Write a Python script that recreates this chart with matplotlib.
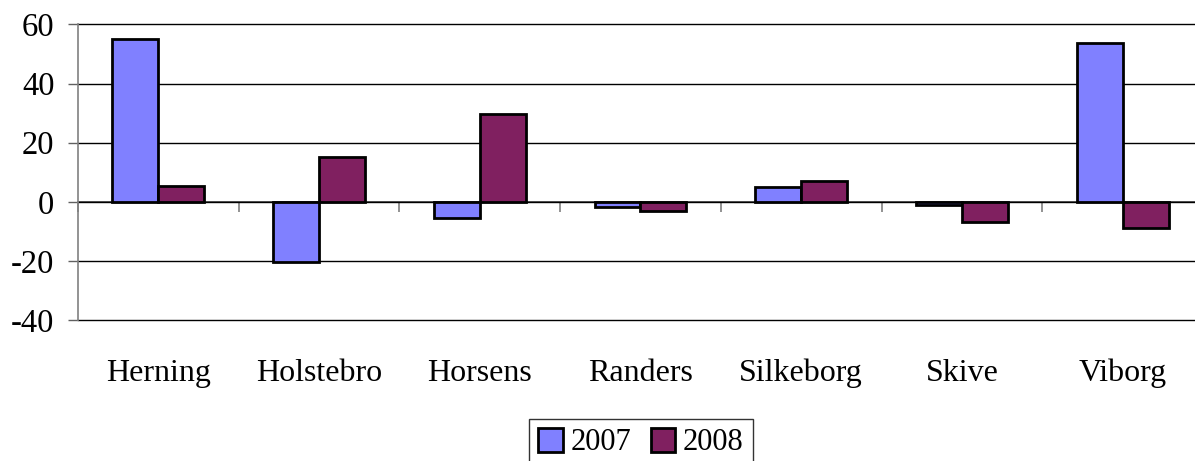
import numpy as np
import matplotlib
matplotlib.use("Agg")
import matplotlib.pyplot as plt

# data
cities = ["Herning", "Holstebro", "Horsens", "Randers", "Silkeborg", "Skive", "Viborg"]
v2007 = [55, -20.3, -5.4, -1.7, 5, -1, 53.7]
v2008 = [5.4, 15, 29.7, -3, 7, -6.8, -8.8]
yticks = [-40, -20, 0, 20, 40, 60]

plt.rcParams['font.family'] = ['Liberation Serif', 'DejaVu Serif']

W, H = 1195, 461
fig = plt.figure(figsize=(W / 100, H / 100), dpi=100)
ax = fig.add_axes([78 / W, (H - 320) / H, (1203 - 78) / W, (320 - 24.5) / H])

x = np.arange(len(cities))
bw = 0.2857
ax.bar(x - bw / 2, v2007, bw, color="#8080FF", edgecolor="black", linewidth=2.0, label="2007", zorder=3)
ax.bar(x + bw / 2, v2008, bw, color="#802060", edgecolor="black", linewidth=2.0, label="2008", zorder=3)

ax.set_xlim(-0.5, len(cities) - 0.5)
ax.set_ylim(-40, 60)
ax.set_yticks(yticks)
ax.set_yticklabels([str(t) for t in yticks], fontsize=23.5)
ax.yaxis.grid(True, color="black", linewidth=1.0, zorder=1)
for gl in ax.get_ygridlines():
    gl.set_clip_on(False)
ax.set_axisbelow(True)

ax.set_xticks(x)
ax.set_xticklabels(cities, fontsize=23)
ax.tick_params(axis="x", length=0, pad=28)
ax.tick_params(axis="y", length=7, width=1, color="#606060", pad=10, direction="out")

for s in ["top", "right", "bottom"]:
    ax.spines[s].set_visible(False)
ax.spines["left"].set_color("#808080")
ax.spines["left"].set_linewidth(1.2)

# category axis at zero with tick marks between groups
sec = ax.secondary_xaxis(0.4)
sec.set_xticks(np.arange(len(cities) + 1) - 0.5)
sec.set_xticklabels([])
sec.tick_params(length=7, width=1.2, color="#808080", direction="out")
sec.spines["bottom"].set_color("#404040")
sec.spines["bottom"].set_linewidth(1.2)

leg = fig.legend(loc="upper center", bbox_to_anchor=(641 / W, 1 - 419 / H), ncol=2,
                 fontsize=22, frameon=True, fancybox=False, edgecolor="black",
                 handlelength=0.8, handleheight=0.8, handletextpad=0.25,
                 columnspacing=0.65, borderpad=0.3, borderaxespad=0)
leg.get_frame().set_linewidth(1.0)

fig.savefig("out.png", dpi=100)
